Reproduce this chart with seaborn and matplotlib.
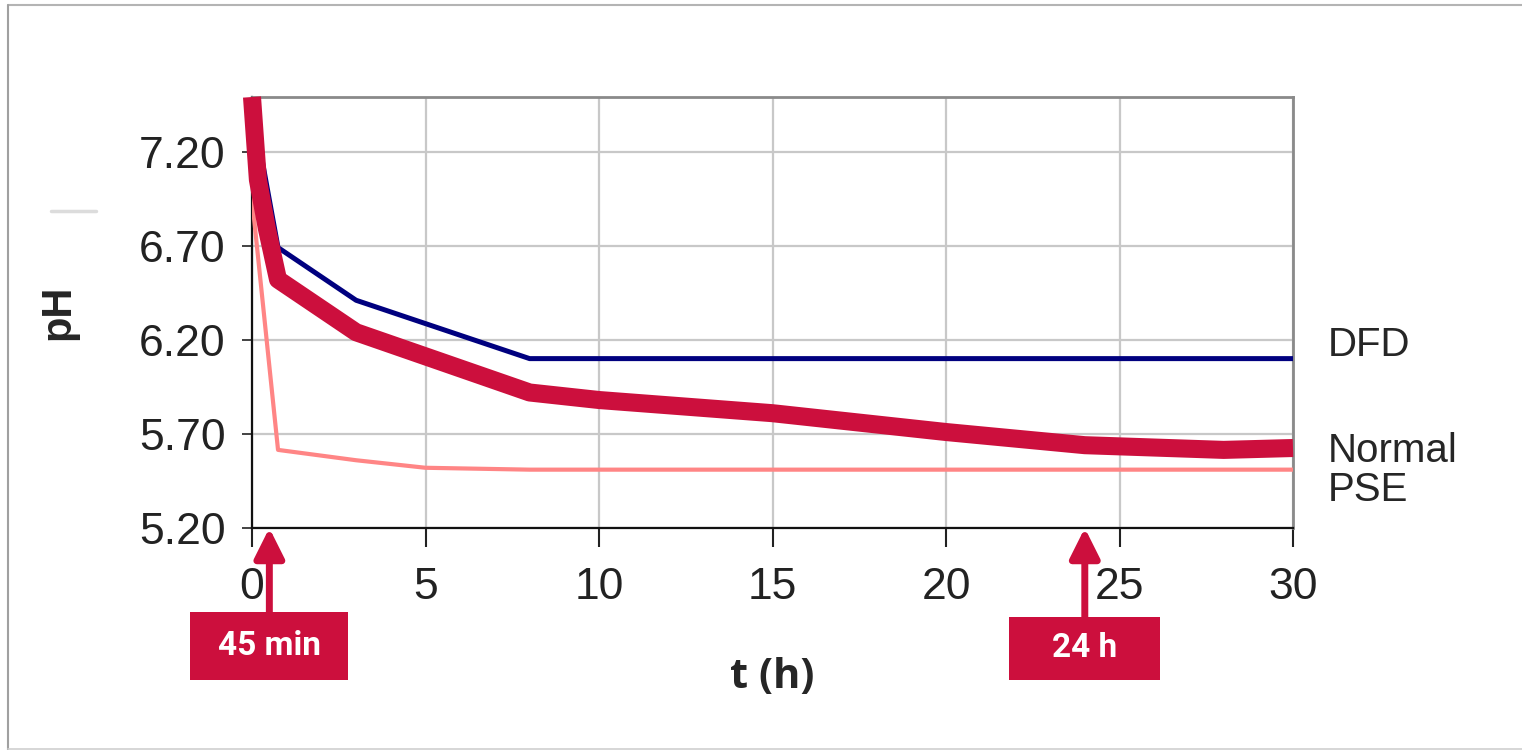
import pandas as pd
import matplotlib.pyplot as plt
import seaborn as sns
from matplotlib.patches import Rectangle
from matplotlib.lines import Line2D

# pH values (time in hours)
dfd_t = [0, 0.75, 3, 8, 24, 30]
dfd_ph = [7.45, 6.69, 6.41, 6.10, 6.10, 6.10]

normal_t = [0, 0.17, 0.43, 0.75, 3, 8, 10, 15, 20, 24, 28, 30]
normal_ph = [7.49, 7.05, 6.79, 6.52, 6.24, 5.92, 5.88, 5.81, 5.71, 5.64, 5.615, 5.625]

pse_t = [0, 0.75, 3, 5, 8, 24, 30]
pse_ph = [6.95, 5.615, 5.56, 5.52, 5.51, 5.51, 5.51]

x_ticks = [0, 5, 10, 15, 20, 25, 30]
y_ticks = [5.20, 5.70, 6.20, 6.70, 7.20]
y_tick_labels = ["5.20", "5.70", "6.20", "6.70", "7.20"]

marker_times = [0.5, 24]
marker_labels = ["45 min", "24 h"]

series_names = ["DFD", "Normal", "PSE"]

dfd = pd.DataFrame({"t": dfd_t, "pH": dfd_ph})
normal = pd.DataFrame({"t": normal_t, "pH": normal_ph})
pse = pd.DataFrame({"t": pse_t, "pH": pse_ph})

sns.set_style("white")
plt.rcParams['font.family'] = ['Liberation Sans', 'DejaVu Sans']

W, H = 1522, 750
fig = plt.figure(figsize=(W / 100, H / 100), dpi=100)
ax = fig.add_axes([252 / W, 1 - 528 / H, (1293 - 252) / W, (528 - 97) / H])

crimson = '#cc0f3d'
navy = '#00007f'
salmon = '#ff8585'

sns.lineplot(data=pse, x="t", y="pH", ax=ax, color=salmon, linewidth=3.0, zorder=3,
             solid_joinstyle='round')
sns.lineplot(data=dfd, x="t", y="pH", ax=ax, color=navy, linewidth=3.6, zorder=4,
             solid_joinstyle='round')
sns.lineplot(data=normal, x="t", y="pH", ax=ax, color=crimson, linewidth=13,
             zorder=5, clip_on=False, solid_capstyle='butt', solid_joinstyle='round')

ax.set_xlim(0, 30)
ax.set_ylim(5.20, 7.49)
ax.set_xticks(x_ticks)
ax.set_yticks(y_ticks)
ax.set_yticklabels(y_tick_labels)
ax.grid(True, color='#c8c8c8', lw=1.6)
ax.set_axisbelow(True)

ax.tick_params(axis='x', labelsize=32, length=14, width=1.5, pad=14, colors='#222222', direction='out')
ax.tick_params(axis='y', labelsize=32, length=7, width=1.2, pad=12, colors='#222222', direction='out')
ax.tick_params(bottom=True, left=True)

for side in ['left', 'bottom']:
    ax.spines[side].set_color('#111111')
    ax.spines[side].set_linewidth(1.6)
for side in ['top', 'right']:
    ax.spines[side].set_color('#8a8a8a')
    ax.spines[side].set_linewidth(2)

ax.set_xlabel("t (h)", fontsize=30, fontweight='bold', family=['Open Sans', 'DejaVu Sans'])
ax.set_ylabel("pH", fontsize=30, fontweight='bold', labelpad=44)
ax.xaxis.set_label_coords(0.5, -0.30)

# series names at the right end of the lines
ax.text(31.0, 6.116, series_names[0], fontsize=29, va='baseline', clip_on=False)
ax.text(31.0, 5.553, series_names[1], fontsize=29, va='baseline', clip_on=False)
ax.text(31.0, 5.342, series_names[2], fontsize=29, va='baseline', clip_on=False)

# time markers: arrow up to the axis and a red tag box
box_widths = [4.55, 4.35]
box_tops = [-0.195, -0.206]
for t, lab, bw, top in zip(marker_times, marker_labels, box_widths, box_tops):
    ax.annotate('', xy=(t, 5.20), xycoords='data',
                xytext=(t, top), textcoords=('data', 'axes fraction'),
                arrowprops=dict(arrowstyle='-|>', color=crimson, lw=5,
                                mutation_scale=45, shrinkA=0, shrinkB=0),
                annotation_clip=False)
    ax.add_patch(Rectangle((t - bw / 2, -0.353), bw, top + 0.353,
                           transform=ax.get_xaxis_transform(), clip_on=False,
                           facecolor=crimson, edgecolor='none', zorder=6))
    ax.text(t, (top - 0.353) / 2, lab, transform=ax.get_xaxis_transform(),
            ha='center', va='center', color='white', fontsize=24,
            fontweight='bold', family=['Roboto', 'DejaVu Sans'], zorder=7)

# frame around the picture and the stray grey dash at the left
fig.add_artist(Line2D([8 / W, 1], [1 - 5 / H, 1 - 5 / H], color='#b4b4b4', lw=1.5))
fig.add_artist(Line2D([8 / W, 8 / W], [1 - 5 / H, 0], color='#a0a0a0', lw=1.5))
fig.add_artist(Line2D([8 / W, 1], [1 - 749 / H, 1 - 749 / H], color='#d0d0d0', lw=1.2))
fig.add_artist(Line2D([51 / W, 96 / W], [1 - 211 / H, 1 - 211 / H], color='#dcdcdc', lw=2.5))

fig.savefig("out.png", dpi=100)
